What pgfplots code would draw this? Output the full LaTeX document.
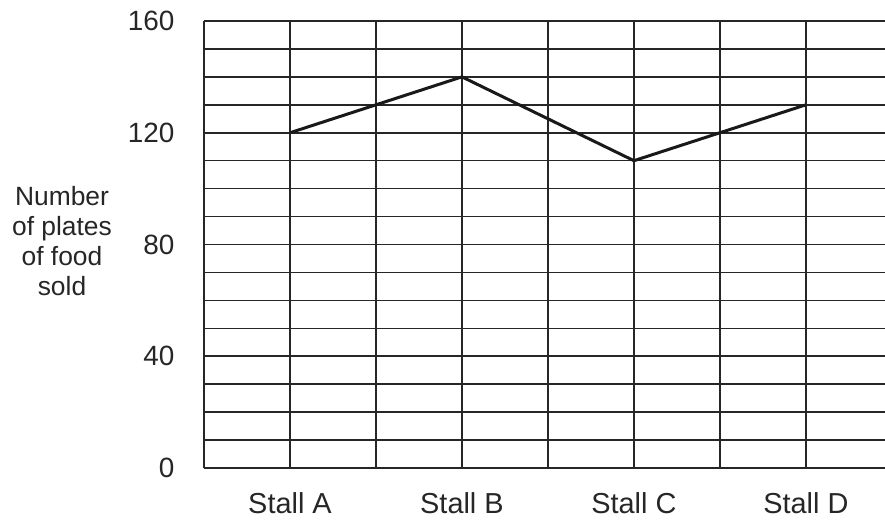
\documentclass[border=0pt]{standalone}
\usepackage{pgfplots}
\pgfplotsset{compat=1.18}
\usepackage{fontspec}
\setmainfont{Liberation Sans}
\begin{document}
\begin{tikzpicture}
\begin{axis}[
  at={(0,0)}, anchor=south west,
  scale only axis, width=681bp, height=447bp,
  xmin=-0.5, xmax=3.46, ymin=0, ymax=160,
  xtick={0,1,2,3},
  xticklabels={Stall A, Stall B, Stall C, Stall D},
  minor xtick={0.5,1.5,2.5},
  ytick={0,40,80,120,160},
  minor ytick={10,20,30,50,60,70,90,100,110,130,140,150},
  grid=both,
  major grid style={black!85, line width=1.6bp},
  minor grid style={black!85, line width=1.6bp},
  axis line style={black!85, line width=1.6bp},
  axis x line*=bottom, axis y line*=left,
  major tick length=0pt, minor tick length=0pt,
  /pgf/number format/assume math mode=true,
  yticklabel style={font=\fontsize{28}{32}\selectfont, text=black!85, xshift=-26bp},
  xticklabel style={font=\fontsize{29}{34}\selectfont, text=black!85, yshift=-21bp},
  every axis y label/.style={at={(rel axis cs:0,0.508)}, anchor=center, xshift=-142bp, align=center, font=\fontsize{26.5}{30}\selectfont, text=black!85},
  ylabel={Number\\of plates\\of food\\sold},
  clip=false,
]
\addplot[black!90, line width=3bp, mark=none] coordinates {(0,120) (1,140) (2,110) (3,130)};
\draw[black!85, line width=1.6bp] (rel axis cs:0,1) -- (rel axis cs:1,1);
\end{axis}
\pgfresetboundingbox
\useasboundingbox (-204bp,-53bp) rectangle (681bp,468bp);
\end{tikzpicture}
\end{document}
